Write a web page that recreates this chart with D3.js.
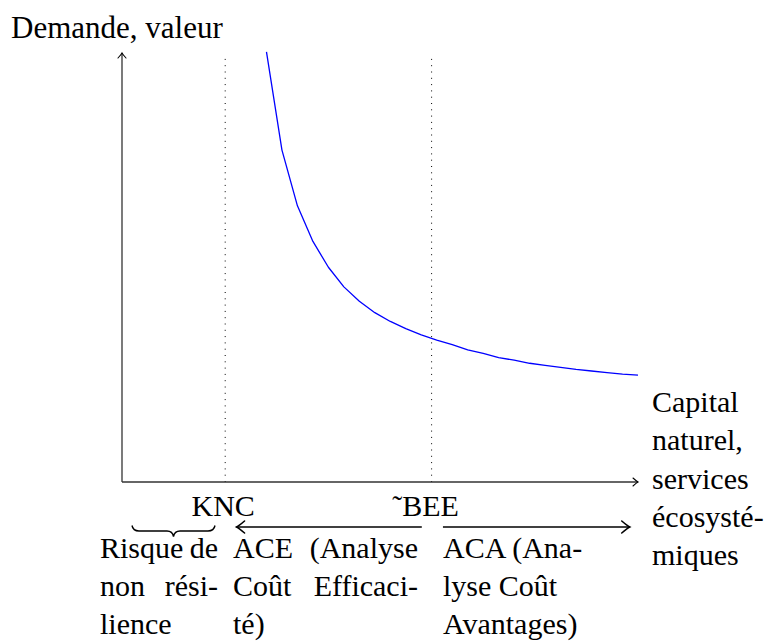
<!DOCTYPE html>
<html>
<head>
<meta charset="utf-8">
<script src="https://cdn.jsdelivr.net/npm/d3@7"></script>
<style>
  body { margin: 0; background: #fff; }
  text { font-family: "Liberation Serif", "DejaVu Serif", serif; font-size: 30px; fill: #000; }
</style>
</head>
<body>
<svg id="chart" width="772" height="642"></svg>
<script>
// demand curve (x in capital units, y in value units)
var curveX = [2.8, 3.1, 3.4, 3.7, 4.0, 4.3, 4.6, 4.9, 5.2, 5.5, 5.8, 6.1, 6.4,
	6.7, 7.0, 7.3, 7.6, 7.9, 8.2, 8.5, 8.8, 9.1, 9.4, 9.7, 10.0];
var curveY = [8.33, 6.43, 5.35, 4.66, 4.16, 3.78, 3.50, 3.28, 3.11, 2.97, 2.85, 2.75, 2.66,
	2.56, 2.49, 2.41, 2.36, 2.30, 2.26, 2.22, 2.18, 2.15, 2.12, 2.09, 2.07];

// thresholds on the x axis
var markNames = ["KNC", "˜BEE"];
var markX = [2, 6];

// range arrows below the axis (from, to)
var rangeArrows = [[5.81, 2.22], [6.22, 9.84]];

var yTitle = "Demande, valeur";
var xTitle = ["Capital", "naturel,", "services", "écosysté-", "miques"];

// columns of text under the axis: [left word, right word] per line, last line single
var colRisque = [["Risque", "de"], ["non", "rési-"], ["lience"]];
var colACE = [["ACE", "(Analyse"], ["Coût", "Efficaci-"], ["té)"]];
var colACA = [["ACA (Ana-"], ["lyse Coût"], ["Avantages)"]];

var svg = d3.select("#chart");

var x = d3.scaleLinear().domain([0, 10]).range([122, 638]),
	y = d3.scaleLinear().domain([0, 8.31]).range([482, 53]);

function head(g, tx, ty, dir, L, w, sw) {
	// tikz style "to" arrow tip, dir: "r", "l", "u"
	var p;
	if (dir == "r") p = "M" + (tx-L) + "," + (ty-w) + " Q" + (tx-L*0.3) + "," + (ty-w*0.2) + " " + tx + "," + ty +
		" Q" + (tx-L*0.3) + "," + (ty+w*0.2) + " " + (tx-L) + "," + (ty+w);
	else if (dir == "l") p = "M" + (tx+L) + "," + (ty-w) + " Q" + (tx+L*0.3) + "," + (ty-w*0.2) + " " + tx + "," + ty +
		" Q" + (tx+L*0.3) + "," + (ty+w*0.2) + " " + (tx+L) + "," + (ty+w);
	else p = "M" + (tx-w) + "," + (ty+L) + " Q" + (tx-w*0.2) + "," + (ty+L*0.3) + " " + tx + "," + ty +
		" Q" + (tx+w*0.2) + "," + (ty+L*0.3) + " " + (tx+w) + "," + (ty+L);
	g.append("path").attr("d", p).attr("fill", "none").attr("stroke", "#000")
		.attr("stroke-width", sw).attr("stroke-linecap", "round");
}

// dotted thresholds
svg.append("g")
	.selectAll("line")
	.data(markX)
	.enter()
	.append("line")
	.attr("x1", function(d) { return x(d); })
	.attr("x2", function(d) { return x(d); })
	.attr("y1", y(0))
	.attr("y2", y.range()[1] + 2)
	.attr("stroke", "#000")
	.attr("stroke-width", 1)
	.attr("stroke-dasharray", "1,5.3");

// axes
var axes = svg.append("g");
axes.append("line")
	.attr("x1", x(0)).attr("x2", x(10)).attr("y1", y(0)).attr("y2", y(0))
	.attr("stroke", "#333").attr("stroke-width", 1.3);
axes.append("line")
	.attr("x1", x(0)).attr("x2", x(0)).attr("y1", y(0)).attr("y2", y.range()[1])
	.attr("stroke", "#333").attr("stroke-width", 1.3);
head(axes, x(10), y(0), "r", 5, 4, 1.1);
head(axes, x(0), y.range()[1], "u", 5, 4, 1.1);

// demand curve
var line = d3.line()
	.x(function(d, i) { return x(curveX[i]); })
	.y(function(d) { return y(d); });

svg.append("path")
	.datum(curveY)
	.attr("fill", "none")
	.attr("stroke", "#0000ff")
	.attr("stroke-width", 1.3)
	.attr("stroke-linejoin", "round")
	.attr("d", line);

// labels
svg.append("text").attr("x", 11).attr("y", 38).style("font-size", "31px").text(yTitle);

svg.append("g")
	.selectAll("text")
	.data(xTitle)
	.enter()
	.append("text")
	.attr("x", 652)
	.attr("y", function(d, i) { return 412 + i * 38.3; })
	.text(function(d) { return d; });

svg.append("g")
	.selectAll("text")
	.data(markNames)
	.enter()
	.append("text")
	.attr("x", function(d, i) { return x(markX[i]) - (i ? 6 : 2); })
	.attr("y", 516)
	.attr("text-anchor", "middle")
	.text(function(d) { return d; });

// range arrows
var ra = svg.append("g");
rangeArrows.forEach(function(a) {
	var yy = 527;
	ra.append("line")
		.attr("x1", x(a[0])).attr("x2", x(a[1])).attr("y1", yy).attr("y2", yy)
		.attr("stroke", "#000").attr("stroke-width", 1.7);
	head(ra, x(a[1]), yy, a[1] > a[0] ? "r" : "l", 8, 6, 1.6);
});

// brace under the "Risque" zone
svg.append("path")
	.attr("d", "M132,525.5 Q133,531 139,531 L167,531 Q172.5,531 173.5,536.5 Q174.5,531 180,531 L208,531 Q214,531 215,525.5")
	.attr("fill", "none")
	.attr("stroke", "#000")
	.attr("stroke-width", 1.4);

function column(lines, left, right) {
	var g = svg.append("g");
	lines.forEach(function(ln, i) {
		var yy = 558 + i * 38;
		g.append("text").attr("x", left).attr("y", yy).text(ln[0]);
		if (ln.length > 1)
			g.append("text").attr("x", right).attr("y", yy).attr("text-anchor", "end").text(ln[1]);
	});
}
column(colRisque, 100, 218);
column(colACE, 233, 418);
column(colACA, 443, 585);
</script>
</body>
</html>
